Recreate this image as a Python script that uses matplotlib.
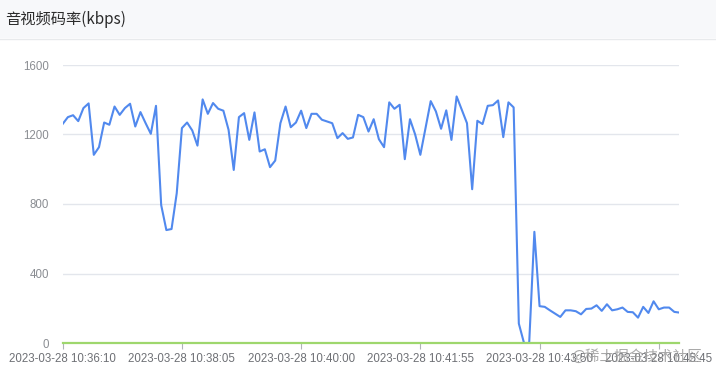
import matplotlib
matplotlib.use('Agg')
import matplotlib.pyplot as plt
from datetime import datetime, timedelta

plt.rcParams['font.family'] = ['Noto Sans CJK SC', 'DejaVu Sans']

start = datetime(2023, 3, 28, 10, 36, 10)
step_s = 5

bitrate = [
    1261, 1300, 1311, 1277, 1352, 1379, 1083, 1127, 1269, 1256,
    1361, 1313, 1352, 1377, 1246, 1329, 1265, 1204, 1365, 794,
    650, 656, 862, 1237, 1269, 1223, 1136, 1402, 1319, 1381,
    1348, 1337, 1227, 996, 1300, 1323, 1169, 1327, 1102, 1115,
    1012, 1050, 1265, 1361, 1242, 1269, 1337, 1237, 1319, 1319,
    1285, 1275, 1265, 1179, 1208, 1175, 1183, 1313, 1300, 1217,
    1288, 1173, 1127, 1385, 1348, 1371, 1058, 1288, 1200, 1083,
    1237, 1392, 1333, 1233, 1339, 1169, 1419, 1342, 1265, 885,
    1279, 1260, 1365, 1369, 1396, 1185, 1385, 1356, 112, 0,
    0, 640, 212, 208, 188, 169, 150, 188, 188, 183,
    165, 196, 198, 217, 185, 223, 188, 194, 204, 179,
    177, 146, 208, 173, 240, 194, 204, 204, 179, 175,
]
second = [0] * len(bitrate)

times = [(start + timedelta(seconds=step_s * i)).strftime('%Y-%m-%d %H:%M:%S')
         for i in range(len(bitrate))]
label_every = 23

fig = plt.figure(figsize=(7.16, 3.76), dpi=100)

# header band
fig.patches.append(plt.Rectangle((0, 1 - 38 / 376), 1, 38 / 376, transform=fig.transFigure,
                                 facecolor='#f7f8fa', edgecolor='none', zorder=0))
fig.lines.append(plt.Line2D([0, 1], [1 - 39 / 376] * 2, transform=fig.transFigure,
                            color='#e8eaec', lw=1))
fig.text(5 / 716, 1 - 19 / 376, '音视频码率(kbps)', fontsize=11, color='#2b2b2b',
         va='center', ha='left', fontweight='medium')

ax = fig.add_axes([62.7 / 716, 1 - 343 / 376, (679.5 - 62.7) / 716, (343 - 65) / 376])
x = list(range(len(bitrate)))
ax.plot(x, bitrate, color='#5189EE', lw=1.5, zorder=3, solid_joinstyle='round')
ax.plot(x, second, color='#9ED76D', lw=1.6, zorder=4, clip_on=False)

ax.set_xlim(0, len(bitrate) - 1)
ax.set_ylim(0, 1600)
ax.set_yticks([0, 400, 800, 1200, 1600])
ax.grid(axis='y', color='#e3e6ec', lw=1)
ax.set_axisbelow(True)

ticks = x[::label_every]
ax.set_xticks(ticks)
ax.set_xticklabels([times[i] for i in ticks])
ax.tick_params(axis='x', length=4, color='#b0b3b8', labelsize=8.3, labelcolor='#6e7075', pad=3)
ax.tick_params(axis='y', length=0, labelsize=8.3, labelcolor='#8a8d92', pad=10)
for lbl in ax.get_xticklabels() + ax.get_yticklabels():
    lbl.set_fontfamily(['Liberation Sans', 'DejaVu Sans'])
for s in ax.spines.values():
    s.set_visible(False)

# watermark sits over the last tick label, as in the source image
fig.text(702 / 716, 1 - 356 / 376, '@稀土掘金技术社区', fontsize=10.5, color='#9a9a9a',
         alpha=0.85, ha='right', va='center')

fig.savefig('out.png', dpi=100)
